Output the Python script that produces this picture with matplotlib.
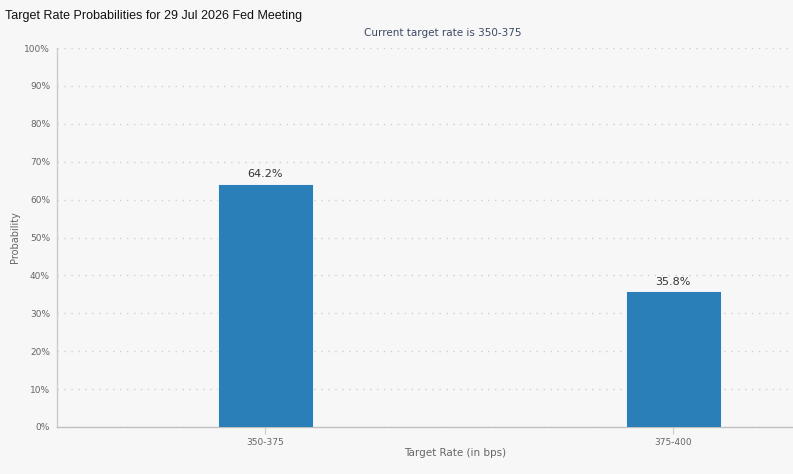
import matplotlib
matplotlib.use("Agg")
import matplotlib.pyplot as plt
from matplotlib.ticker import FuncFormatter, MultipleLocator

categories = ["350-375", "375-400"]
probabilities = [64.2, 35.8]
title = "Target Rate Probabilities for 29 Jul 2026 Fed Meeting"
subtitle = "Current target rate is 350-375"

W, H = 793, 474
fig = plt.figure(figsize=(W / 100, H / 100), dpi=100)
bg = "#f7f7f7"
fig.patch.set_facecolor(bg)

left_px, right_px, top_px, bot_px = 57, 793, 48, 427
ax = fig.add_axes([left_px / W, 1 - bot_px / H, (right_px - left_px) / W, (bot_px - top_px) / H])
ax.set_facecolor(bg)

x = list(range(len(categories)))
bars = ax.bar(x, probabilities, width=0.233, color="#2a7fb8", edgecolor="#ffffff", linewidth=0.6, zorder=3)
for xi, v in zip(x, probabilities):
    ax.text(xi, v + 1.2, f"{v:.1f}%", ha="center", va="bottom", fontsize=8, color="#333333",
            family="DejaVu Sans", zorder=4)

ax.set_xlim(-0.51, 1.294)
ax.set_ylim(0, 100)
ax.yaxis.set_major_locator(MultipleLocator(10))
ax.yaxis.set_major_formatter(FuncFormatter(lambda v, p: f"{v:.0f}%"))
ax.set_xticks(x)
ax.set_xticklabels(categories)
ax.grid(axis="y", color="#cfcfcf", linestyle=(0, (1, 4)), linewidth=1.0, zorder=0)
ax.tick_params(axis="y", length=0, labelsize=6.5, labelcolor="#666666", pad=5)
ax.tick_params(axis="x", length=5, color="#cccccc", labelsize=6.5, labelcolor="#666666", pad=3)
for s in ["top", "right"]:
    ax.spines[s].set_visible(False)
ax.spines["left"].set_color("#cccccc")
ax.spines["bottom"].set_color("#c0c0c0")
ax.spines["left"].set_linewidth(1.0)
ax.spines["bottom"].set_linewidth(1.0)

fig.text(5 / W, 1 - 16 / H, title, ha="left", va="center", fontsize=9, family="Liberation Sans", color="#111111")
fig.text(443 / W, 1 - 33 / H, subtitle, ha="center", va="center", fontsize=7.5, family="DejaVu Sans", color="#3d4a66")
fig.text(15 / W, 1 - 237 / H, "Probability", rotation=90, ha="center", va="center", fontsize=7, family="DejaVu Sans", color="#666666")
fig.text(455 / W, 1 - 453 / H, "Target Rate (in bps)", ha="center", va="center", fontsize=7.5, family="DejaVu Sans", color="#666666")

fig.savefig("out.png", dpi=100, facecolor=bg)
